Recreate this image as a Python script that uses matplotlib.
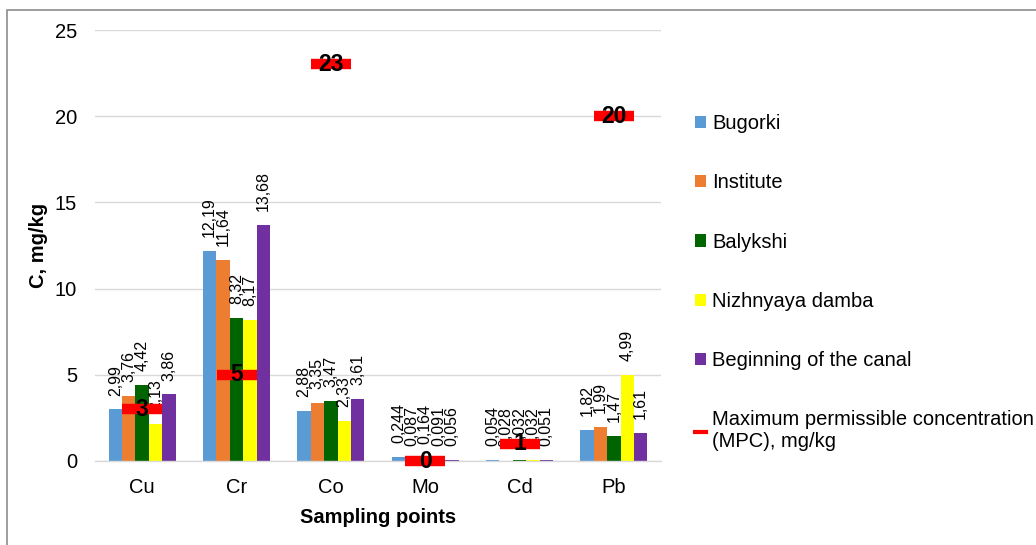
import numpy as np
import matplotlib
matplotlib.use('Agg')
import matplotlib.pyplot as plt
from matplotlib.patches import Patch, Rectangle
from matplotlib.lines import Line2D

plt.rcParams['font.family'] = ['Liberation Sans', 'DejaVu Sans']

elements = ['Cu', 'Cr', 'Co', 'Mo', 'Cd', 'Pb']
bugorki = [2.99, 12.19, 2.88, 0.244, 0.054, 1.82]
institute = [3.76, 11.64, 3.35, 0.087, 0.028, 1.99]
balykshi = [4.42, 8.32, 3.47, 0.164, 0.032, 1.47]
nizhnyaya = [2.13, 8.17, 2.33, 0.091, 0.032, 4.99]
canal = [3.86, 13.68, 3.61, 0.056, 0.051, 1.61]
labels_fmt = [['2,99', '12,19', '2,88', '0,244', '0,054', '1,82'],
              ['3,76', '11,64', '3,35', '0,087', '0,028', '1,99'],
              ['4,42', '8,32', '3,47', '0,164', '0,032', '1,47'],
              ['2,13', '8,17', '2,33', '0,091', '0,032', '4,99'],
              ['3,86', '13,68', '3,61', '0,056', '0,051', '1,61']]
mpc = [3, 5, 23, 0, 1, 20]

series_names = ['Bugorki', 'Institute', 'Balykshi', 'Nizhnyaya damba', 'Beginning of the canal']
colors = ['#5b9bd5', '#ed7d31', '#006400', '#ffff00', '#7030a0']
series = [bugorki, institute, balykshi, nizhnyaya, canal]

fig = plt.figure(figsize=(10.36, 5.45), dpi=100)
ax = fig.add_axes([95/1036, 1-461/545, (661-95)/1036, (461-30)/545])

x = np.arange(len(elements))
w = 0.142
for i, (vals, c) in enumerate(zip(series, colors)):
    pos = x + (i - 2) * w
    ax.bar(pos, vals, width=w, color=c, zorder=2)
    for p, v, t in zip(pos, vals, labels_fmt[i]):
        ax.annotate(t, (p, v), xytext=(0, 10), textcoords='offset points',
                    rotation=90, ha='center', va='bottom', fontsize=11.5, zorder=4)

ax.plot(x, mpc, linestyle='none', marker='_', markersize=29, markeredgewidth=7.5,
        color='#ff0000', zorder=5, clip_on=False)
for xi, m in zip(x, mpc):
    ax.text(xi, m, str(m), ha='center', va='center', fontsize=16.5, fontweight='bold',
            zorder=6, clip_on=False)

ax.set_xlim(-0.5, 5.5)
ax.set_ylim(0, 25)
ax.set_yticks([0, 5, 10, 15, 20, 25])
ax.set_xticks(x)
ax.set_xticklabels(elements)
ax.tick_params(axis='both', length=0, labelsize=14.5)
ax.tick_params(axis='y', pad=13)
ax.tick_params(axis='x', pad=12)
ax.yaxis.grid(True, color='#d9d9d9', linewidth=1, zorder=0)
ax.set_axisbelow(True)
for s in ['top', 'right', 'left']:
    ax.spines[s].set_visible(False)
ax.spines['bottom'].set_color('#d9d9d9')
ax.spines['bottom'].set_linewidth(1)

ax.set_ylabel('C, mg/kg', fontsize=14.5, fontweight='bold', labelpad=5)
ax.set_xlabel('Sampling points', fontsize=14.5, fontweight='bold', labelpad=8)

handles = [Patch(facecolor=c, edgecolor='none') for c in colors]
handles.append(Line2D([0], [0], color='#ff0000', linewidth=3))
names = series_names + ['Maximum permissible concentration\n(MPC), mg/kg']
fig.legend(handles, names, loc='upper left', bbox_to_anchor=(687/1036, 1-106/545),
           frameon=False, fontsize=14.5, handlelength=0.55, handleheight=0.55,
           handletextpad=0.3, labelspacing=2.0, borderaxespad=0)

fig.patches.append(Rectangle((7/1036, -0.1), 1.2, 1-10/545+0.1, transform=fig.transFigure,
                             fill=False, edgecolor='#8c8c8c', linewidth=1.2))

fig.savefig('out.png', dpi=100)
